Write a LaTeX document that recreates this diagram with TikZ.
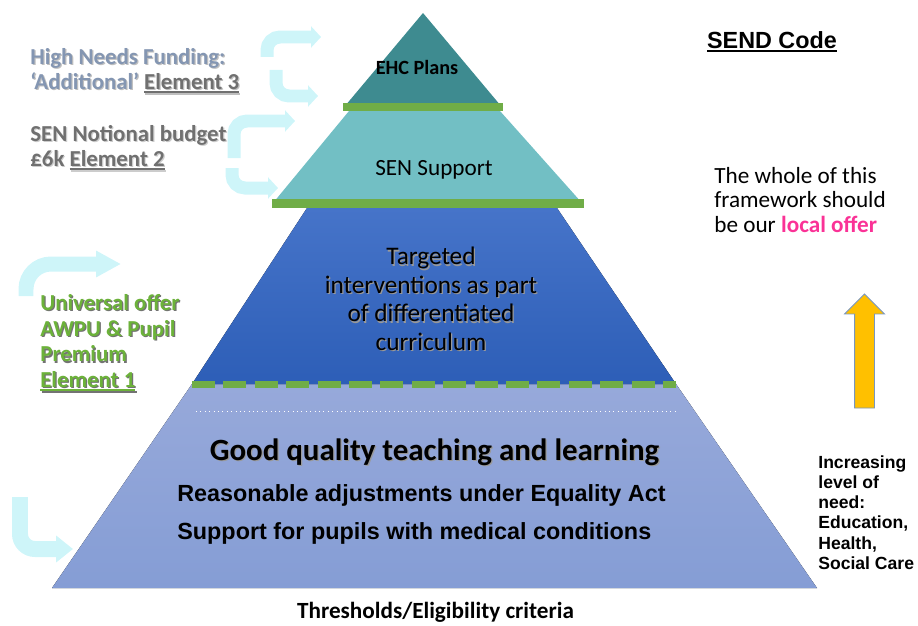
\documentclass[tikz,border=0pt]{standalone}
\usepackage{fontspec}
\setmainfont{Carlito}
\newfontfamily\arialfont{Liberation Sans}
\usepackage{tikz}
\usetikzlibrary{shapes.geometric, shapes.arrows, arrows.meta}
\usetikzlibrary{positioning}

\definecolor{ehcteal}{RGB}{62,139,144}
\definecolor{senteal}{RGB}{114,191,196}
\definecolor{targettop}{RGB}{70,116,201}
\definecolor{targetbottom}{RGB}{45,94,183}
\definecolor{basetop}{RGB}{151,169,218}
\definecolor{basebottom}{RGB}{133,157,213}
\definecolor{bargreen}{RGB}{112,173,71}
\definecolor{arrowcyan}{RGB}{206,245,249}
\definecolor{offerpink}{RGB}{250,50,150}
\definecolor{needyellow}{RGB}{255,192,0}
\definecolor{neededge}{RGB}{120,150,190}
\definecolor{fundblue}{RGB}{132,150,178}
\definecolor{fundgrey}{RGB}{112,112,112}
\definecolor{offergreen}{RGB}{108,178,58}

\newcommand{\shadowcolor}[2]{#2}
\newcommand{\shadowed}[2][black!40]{\leavevmode\rlap{\kern0.7pt\raisebox{-0.7pt}{\color{#1}\let\textcolor\shadowcolor #2}}#2}
\newcommand{\thickunder}[1]{\setbox0\hbox{#1}\rlap{\rule[-2.2pt]{\wd0}{1.1pt}}\box0}

\tikzstyle{base_layer} = [top color=basetop, bottom color=basebottom]
\tikzstyle{target_layer} = [top color=targettop, bottom color=targetbottom]
\tikzstyle{green_dash} = [draw=bargreen, line width=0.14cm, dash pattern=on 0.46cm off 0.168cm]
\tikzstyle{layer_text} = [text centered, align=center, inner sep=0pt]
\tikzstyle{side_text} = [align=left, anchor=west, inner sep=0pt]
\tikzstyle{bent_arrow} = [draw=arrowcyan, line width=0.26cm, rounded corners=0.26cm, -{Triangle[width=0.42cm, length=0.2cm]}]
\tikzstyle{need_arrow} = [single arrow, rotate=90, fill=needyellow, draw=neededge, line width=0.5pt, inner xsep=0pt, inner ysep=0.19cm, minimum height=2.28cm, single arrow head extend=0.2cm]

\begin{document}
\begin{tikzpicture}[x=0.02cm, y=-0.02cm]

    \useasboundingbox (0,0) rectangle (918,625);

    \fill [base_layer] (192,384) -- (676,384) -- (817,588) -- (52,588) -- cycle;
    \fill [target_layer] (307,208) -- (557,208) -- (676,384) -- (192,384) -- cycle;
    \fill [senteal] (349,111) -- (500,111) -- (582,203) -- (273,203) -- cycle;
    \fill [ehcteal] (423,13) -- (501,106) -- (345,106) -- cycle;

    \fill [bargreen] (343,103) rectangle (503,111);
    \fill [bargreen] (272,199) rectangle (584,208);
    \draw [green_dash] (192,384.5) -- (676,384.5);
    \draw [white, dotted, line width=0.5pt] (196,411) -- (678,411);

    \node (ehcplans) [layer_text, font=\fontsize{11.5}{13}\selectfont\bfseries] at (417,67) {EHC Plans};
    \node (sensupport) [layer_text, font=\fontsize{13.2}{15}\selectfont] at (434,170) {SEN Support};
    \node (targeted) [layer_text, font=\fontsize{14.4}{16.2}\selectfont] at (431,299.5)
        {\shadowed{Targeted}\\ \shadowed{interventions as part}\\ \shadowed{of differentiated}\\ \shadowed{curriculum}};
    \node (goodquality) [layer_text, font=\fontsize{17.6}{20}\selectfont\bfseries] at (434.5,453)
        {\shadowed{Good quality teaching and learning}};
    \node (reasonable) [side_text, font=\arialfont\fontsize{13.3}{15}\selectfont\bfseries] at (177,495)
        {Reasonable adjustments under Equality Act};
    \node (medical) [side_text, font=\arialfont\fontsize{13.3}{15}\selectfont\bfseries] at (177,533)
        {Support for pupils with medical conditions};
    \node (thresholds) [layer_text, font=\fontsize{13.2}{15}\selectfont\bfseries] at (435.5,612.5)
        {Thresholds/Eligibility criteria};

    \node (sendcode) [layer_text, font=\arialfont\fontsize{13.3}{15}\selectfont\bfseries] at (772,42)
        {\thickunder{SEND Code}};
    \node (wholeframework) [side_text, font=\fontsize{13.2}{14.2}\selectfont] at (714,200)
        {The whole of this\\ framework should\\ be our \textcolor{offerpink}{\bfseries local offer}};
    \node (needarrow) [need_arrow] at (864.5,356) {};
    \node (increasing) [side_text, font=\arialfont\fontsize{10}{11.5}\selectfont\bfseries] at (818,512.5)
        {Increasing\\ level of\\ need:\\ Education,\\ Health,\\ Social Care};

    \node (highneeds) [side_text, font=\fontsize{13}{14.2}\selectfont\bfseries, text=fundblue] at (30,71.5)
        {\shadowed[black!25]{High Needs Funding:}\\ \shadowed[black!25]{‘Additional’ \textcolor{fundgrey}{\thickunder{Element 3}}}};
    \node (sennotional) [side_text, font=\fontsize{13}{14.2}\selectfont\bfseries, text=fundgrey] at (30,148.5)
        {\shadowed[black!20]{SEN Notional budget}\\ \shadowed[black!20]{£6k \thickunder{Element 2}}};
    \node (universal) [side_text, font=\fontsize{13}{14.6}\selectfont\bfseries, text=offergreen] at (40,343.5)
        {\shadowed[black!55]{Universal offer}\\ \shadowed[black!55]{AWPU \& Pupil}\\ \shadowed[black!55]{Premium}\\ \shadowed[black!55]{\thickunder{Element 1}}};

    \coordinate (fund3_up) at (267,57);
    \coordinate (fund3_in) at (321,37);
    \coordinate (fund3_down) at (276,70);
    \coordinate (fund3_out) at (318,96);
    \coordinate (fund2_up) at (234,158);
    \coordinate (fund2_in) at (295,121);
    \coordinate (fund2_down) at (232,168);
    \coordinate (fund2_out) at (278,188);
    \coordinate (universal_up) at (26,296);
    \coordinate (universal_in) at (121,264);
    \coordinate (base_down) at (20,497);
    \coordinate (base_in) at (73,549);

    \draw [bent_arrow] (fund3_up) |- (fund3_in);
    \draw [bent_arrow] (fund3_down) |- (fund3_out);
    \draw [bent_arrow] (fund2_up) |- (fund2_in);
    \draw [bent_arrow] (fund2_down) |- (fund2_out);
    \draw [bent_arrow, line width=0.3cm, rounded corners=0.5cm, -{Triangle[width=0.5cm, length=0.5cm]}] (universal_up) |- (universal_in);
    \draw [bent_arrow, line width=0.32cm, rounded corners=0.3cm, -{Triangle[width=0.52cm, length=0.34cm]}] (base_down) |- (base_in);

\end{tikzpicture}
\end{document}
